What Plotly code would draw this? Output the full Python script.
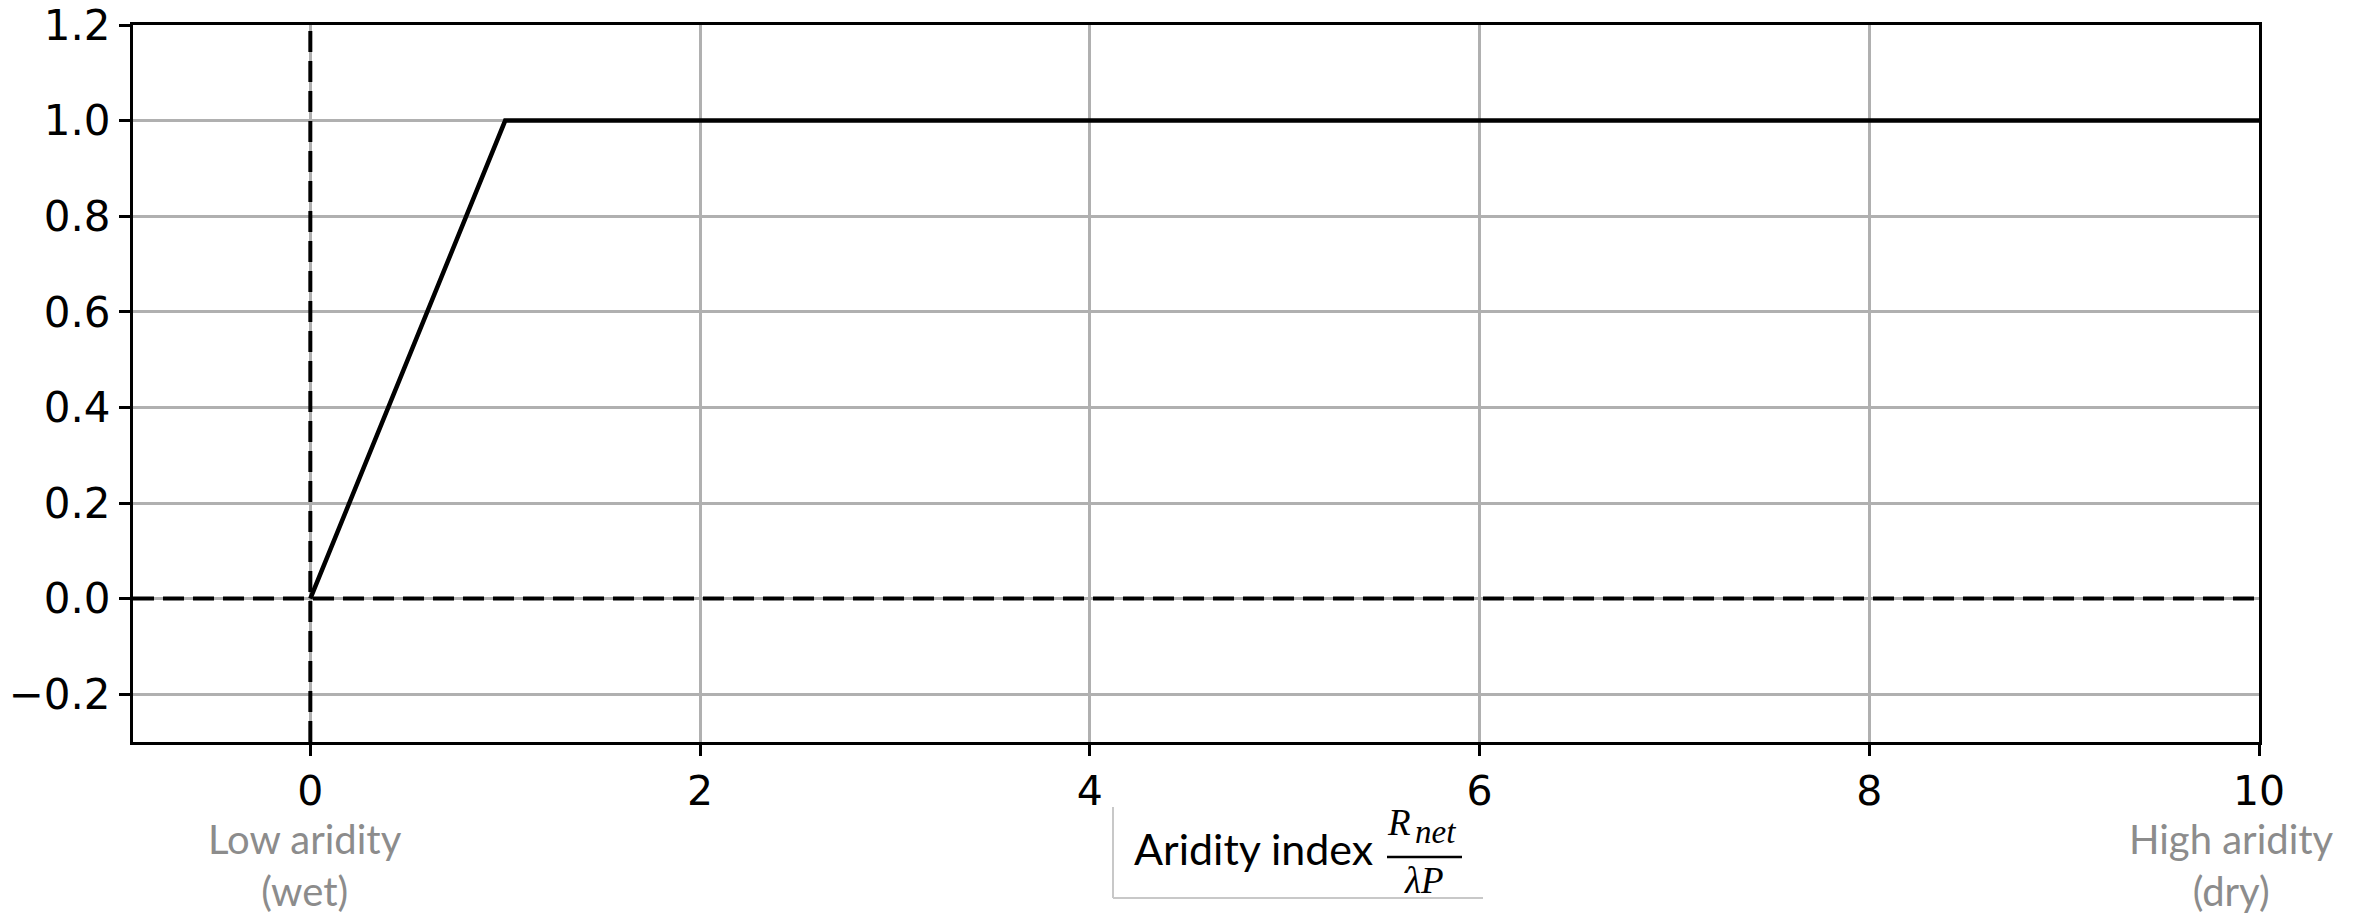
import plotly.graph_objects as go

# ---- data ----
aridity = [0, 1, 10]
response = [0, 1, 1]
x_range = [-0.91, 10]
y_range = [-0.3, 1.2]
x_ticks = [0, 2, 4, 6, 8, 10]
y_ticks = [-0.2, 0.0, 0.2, 0.4, 0.6, 0.8, 1.0, 1.2]
y_ticklabels = ["\u22120.2", "0.0", "0.2", "0.4", "0.6", "0.8", "1.0", "1.2"]
x_ticklabels = ["0", "2", "4", "6", "8", "10"]

W, H = 2361, 919
ML, MR, MT, MB = 133, 102, 25, 177
PW, PH = W - ML - MR, H - MT - MB


def px(xp):
    return (xp - ML) / PW


def py(yp):
    return (H - MB - yp) / PH


fig = go.Figure()
fig.add_trace(go.Scatter(x=aridity, y=response, mode="lines",
                         line=dict(color="black", width=4.5), showlegend=False,
                         hoverinfo="skip", cliponaxis=False))

dash = dict(color="black", width=4, dash="21px,9px")
fig.add_vline(x=0, line=dash, layer="above")
fig.add_hline(y=0, line=dash, layer="above")

axis_common = dict(showline=True, mirror=True, linecolor="black", linewidth=3,
                   ticks="outside", ticklen=11, tickwidth=2.5, tickcolor="black",
                   showgrid=True, gridcolor="#b0b0b0", gridwidth=2.5,
                   zeroline=False, automargin=False)

fig.update_xaxes(range=x_range, tickvals=x_ticks, ticktext=x_ticklabels,
                 tickfont=dict(family="DejaVu Sans", size=41, color="black"),
                 **axis_common)
fig.update_yaxes(range=y_range, tickvals=y_ticks, ticktext=y_ticklabels,
                 tickfont=dict(family="DejaVu Sans", size=42, color="black"),
                 **axis_common)

gray = "#8c8c8c"
fig.add_annotation(x=0, xref="x", y=0, yref="paper", yanchor="top", yshift=-71,
                   xshift=-5, text="Low aridity<br>(wet)", showarrow=False,
                   font=dict(family="Lato", size=40, color=gray), align="center")
fig.add_annotation(x=10, xref="x", y=0, yref="paper", yanchor="top", yshift=-71,
                   xshift=-28, text="High aridity<br>(dry)", showarrow=False,
                   font=dict(family="Lato", size=40, color=gray), align="center")

# x-axis title box
fig.add_annotation(x=px(1132), xref="paper", xanchor="left", y=py(848), yref="paper",
                   yanchor="middle", text="Aridity index", showarrow=False,
                   font=dict(family="Lato", size=43, color="black"))
serif = dict(family="Liberation Serif", size=37, color="black")
fig.add_annotation(x=px(1399), xref="paper", xanchor="center", y=py(823), yref="paper",
                   yanchor="middle", text="<i>R</i>", showarrow=False, font=serif)
fig.add_annotation(x=px(1435), xref="paper", xanchor="center", y=py(832), yref="paper",
                   yanchor="middle", text="<i>net</i>", showarrow=False,
                   font=dict(family="Liberation Serif", size=33, color="black"))
fig.add_annotation(x=px(1424), xref="paper", xanchor="center", y=py(880), yref="paper",
                   yanchor="middle", text="<i>\u03bbP</i>", showarrow=False, font=serif)
fig.add_shape(type="line", xref="paper", yref="paper",
              x0=px(1387), x1=px(1462), y0=py(857), y1=py(857),
              line=dict(color="black", width=2.5))
fig.add_shape(type="line", xref="paper", yref="paper",
              x0=px(1113), x1=px(1113), y0=py(807), y1=py(898),
              line=dict(color="#c8c8c8", width=2))
fig.add_shape(type="line", xref="paper", yref="paper",
              x0=px(1113), x1=px(1483), y0=py(898), y1=py(898),
              line=dict(color="#c8c8c8", width=2))

fig.update_layout(width=W, height=H, margin=dict(l=ML, r=MR, t=MT, b=MB),
                  plot_bgcolor="white", paper_bgcolor="white", showlegend=False)

fig.write_html("out.html")
